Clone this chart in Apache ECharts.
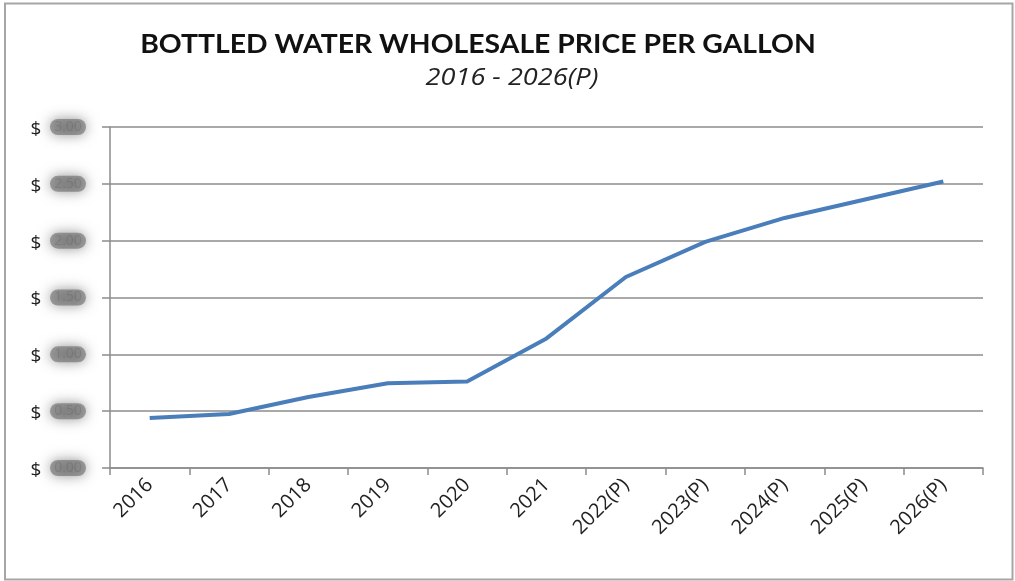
<!DOCTYPE html>
<html>
<head>
<meta charset="utf-8">
<script src="https://cdn.jsdelivr.net/npm/echarts@6/dist/echarts.min.js"></script>
<style>html,body{margin:0;padding:0;background:#fff}#c{width:1015px;height:581px}</style>
</head>
<body>
<div id="c"></div>
<script>
var categories = ['2016','2017','2018','2019','2020','2021','2022(P)','2023(P)','2024(P)','2025(P)','2026(P)'];
var prices = [0.44, 0.475, 0.625, 0.745, 0.76, 1.14, 1.68, 1.99, 2.20, 2.36, 2.52];
var yTicks = [0, 0.5, 1.0, 1.5, 2.0, 2.5, 3.0];
var titleText = 'BOTTLED WATER WHOLESALE PRICE PER GALLON';
var subtitleText = '2016 - 2026(P)';

var chart = echarts.init(document.getElementById('c'));
chart.setOption({
  animation: false,
  graphic: [{
    type: 'rect', shape: {x: 5, y: 3.5, width: 1007.5, height: 576},
    style: {fill: 'none', stroke: '#a6a6a6', lineWidth: 2}, silent: true
  }, {
    type: 'text', x: 478, y: 45, scaleX: 1.09,
    style: {text: titleText, font: 'bold 26px Lato', fill: '#111', align: 'center', verticalAlign: 'middle'}
  }, {
    type: 'text', x: 512, y: 78, scaleX: 1.13,
    style: {text: subtitleText, font: 'italic 24px "Open Sans"', fill: '#222', align: 'center', verticalAlign: 'middle'}
  }],
  grid: {left: 110, right: 32, top: 127, bottom: 113},
  xAxis: {
    type: 'category', data: categories, boundaryGap: true,
    axisLine: {lineStyle: {color: '#8c8c8c', width: 1.5}},
    axisTick: {show: true, length: 7, lineStyle: {color: '#8c8c8c', width: 1.5}},
    axisLabel: {rotate: 45, margin: 14, fontFamily: 'Open Sans', fontSize: 20, color: '#222', interval: 0}
  },
  yAxis: {
    type: 'value', min: yTicks[0], max: yTicks[yTicks.length - 1], interval: 0.5,
    axisLine: {show: true, lineStyle: {color: '#8c8c8c', width: 1.5}},
    axisTick: {show: true, length: 8, lineStyle: {color: '#8c8c8c', width: 1.5}},
    splitLine: {lineStyle: {color: '#8c8c8c', width: 1.5}},
    axisLabel: {
      margin: 24,
      formatter: function (v) { return '{d|$}{b|' + v.toFixed(2) + '}'; },
      rich: {
        d: {fontFamily: 'Open Sans', fontSize: 19, color: '#222', width: 14, height: 22, lineHeight: 22,
            verticalAlign: 'middle', padding: [5, 7, 0, 0]},
        b: {fontFamily: 'Open Sans', fontSize: 14, color: 'rgba(70,70,70,0.2)',
            textShadowColor: 'rgba(60,60,60,0.8)', textShadowBlur: 8,
            backgroundColor: 'rgba(105,105,105,0.6)', shadowColor: 'rgba(85,85,85,1)', shadowBlur: 13,
            borderRadius: 8, width: 36, height: 16, lineHeight: 16, verticalAlign: 'middle', align: 'center'}
      }
    }
  },
  series: [{
    type: 'line', data: prices, symbol: 'none',
    lineStyle: {color: '#4a7ebb', width: 4}
  }]
});
</script>
</body>
</html>
